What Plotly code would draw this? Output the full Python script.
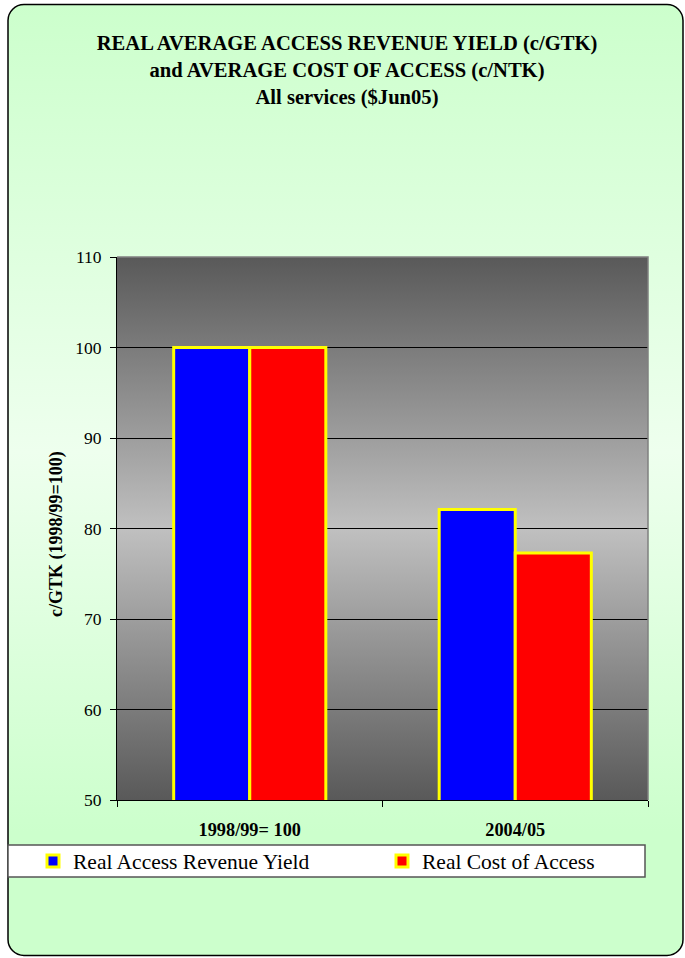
import base64
import plotly.graph_objects as go

# ---- data ----
categories = ["1998/99= 100", "2004/05"]
revenue_yield = [100, 82.1]
cost_of_access = [100, 77.3]
series_names = ["Real Access Revenue Yield", "Real Cost of Access"]
y_ticks = [50, 60, 70, 80, 90, 100, 110]

W, H = 685, 958
ML, MR, MT, MB = 117, 37, 257, 158
PW, PH = W - ML - MR, H - MT - MB
FONT = "Liberation Serif"


def px_x(px):
    return (px - ML) / PW


def px_y(py):
    return (H - MB - py) / PH


def svg_uri(svg):
    return "data:image/svg+xml;base64," + base64.b64encode(svg.encode()).decode()


bg_svg = f"""<svg xmlns='http://www.w3.org/2000/svg' width='{W}' height='{H}' viewBox='0 0 {W} {H}' preserveAspectRatio='none'>
<defs><linearGradient id='g' x1='0' y1='0' x2='0' y2='1'>
<stop offset='0' stop-color='#CCFFCC'/>
<stop offset='0.47' stop-color='#EEFFEE'/>
<stop offset='0.87' stop-color='#CCFFCC'/>
<stop offset='1' stop-color='#CCFFCC'/>
</linearGradient></defs>
<rect x='0' y='0' width='{W}' height='{H}' fill='white'/>
<rect x='8' y='4.5' width='675' height='951' rx='16' ry='16' fill='url(#g)' stroke='black' stroke-width='1.5'/>
</svg>"""

plot_svg = """<svg xmlns='http://www.w3.org/2000/svg' width='100' height='100' viewBox='0 0 100 100' preserveAspectRatio='none'>
<defs><linearGradient id='p' x1='0' y1='0' x2='0' y2='1'>
<stop offset='0' stop-color='#595959'/>
<stop offset='0.5' stop-color='#C0C0C0'/>
<stop offset='1' stop-color='#595959'/>
</linearGradient></defs>
<rect x='0' y='0' width='100' height='100' fill='url(#p)'/>
</svg>"""

fig = go.Figure()
fig.add_trace(go.Bar(
    x=categories, y=revenue_yield, name=series_names[0], legend="legend",
    marker=dict(color="#0000FF", line=dict(color="#FFFF00", width=3)),
))
fig.add_trace(go.Bar(
    x=categories, y=cost_of_access, name=series_names[1], legend="legend2",
    marker=dict(color="#FF0000", line=dict(color="#FFFF00", width=3)),
))

legend_common = dict(
    orientation="h", xanchor="left", y=px_y(861), yanchor="middle",
    bgcolor="rgba(0,0,0,0)", borderwidth=0,
    font=dict(family=FONT, size=21.5, color="black"),
)

fig.update_layout(
    width=W, height=H, autosize=False,
    margin=dict(l=ML, r=MR, t=MT, b=MB, pad=0),
    paper_bgcolor="white", plot_bgcolor="rgba(0,0,0,0)",
    barmode="group", bargap=0.427, bargroupgap=0,
    font=dict(family=FONT, color="black"),
    title=dict(
        text="REAL AVERAGE ACCESS REVENUE YIELD (c/GTK)<br>and AVERAGE COST OF ACCESS (c/NTK)<br>All services ($Jun05)",
        font=dict(family=FONT, size=20.6, weight="bold", color="black"),
        x=347 / W, xanchor="center", xref="container",
        y=1 - 50 / H, yanchor="top", yref="container",
    ),
    xaxis=dict(
        type="category", showline=True, linecolor="black", linewidth=1,
        ticks="outside", tickson="boundaries", ticklen=6, tickcolor="black",
        tickfont=dict(family=FONT, size=18.3, weight="bold", color="black"),
        ticklabelstandoff=13, showgrid=False, fixedrange=True,
    ),
    yaxis=dict(
        range=[50, 110], tickvals=y_ticks, showline=True, linecolor="black",
        linewidth=1, ticks="outside", ticklen=6, tickcolor="black",
        tickfont=dict(family=FONT, size=17.5, color="black"),
        ticklabelstandoff=5,
        showgrid=True, gridcolor="black", gridwidth=1, zeroline=False,
        fixedrange=True,
    ),
    legend=dict(x=px_x(33), **legend_common),
    legend2=dict(x=px_x(382), **legend_common),
    showlegend=True,
    images=[
        dict(source=svg_uri(bg_svg), xref="paper", yref="paper",
             x=px_x(0), y=px_y(0), sizex=W / PW, sizey=H / PH,
             xanchor="left", yanchor="top", sizing="stretch", layer="below"),
        dict(source=svg_uri(plot_svg), xref="paper", yref="paper",
             x=0, y=1, sizex=1, sizey=1,
             xanchor="left", yanchor="top", sizing="stretch", layer="below"),
    ],
    shapes=[
        dict(type="rect", xref="paper", yref="paper",
             x0=px_x(8), x1=px_x(645), y0=px_y(877), y1=px_y(845),
             fillcolor="white", line=dict(color="#555555", width=1.5), layer="below"),
        dict(type="path", xref="paper", yref="paper",
             path="M 0,1 L 1,1 L 1,0", line=dict(color="#808080", width=1.5),
             layer="above"),
    ],
    annotations=[
        dict(text="c/GTK (1998/99=100)", textangle=-90, showarrow=False,
             xref="paper", yref="paper", x=px_x(56), y=px_y(534),
             xanchor="center", yanchor="middle",
             font=dict(family=FONT, size=18, weight="bold", color="black")),
    ],
)

fig.write_html("out.html")
